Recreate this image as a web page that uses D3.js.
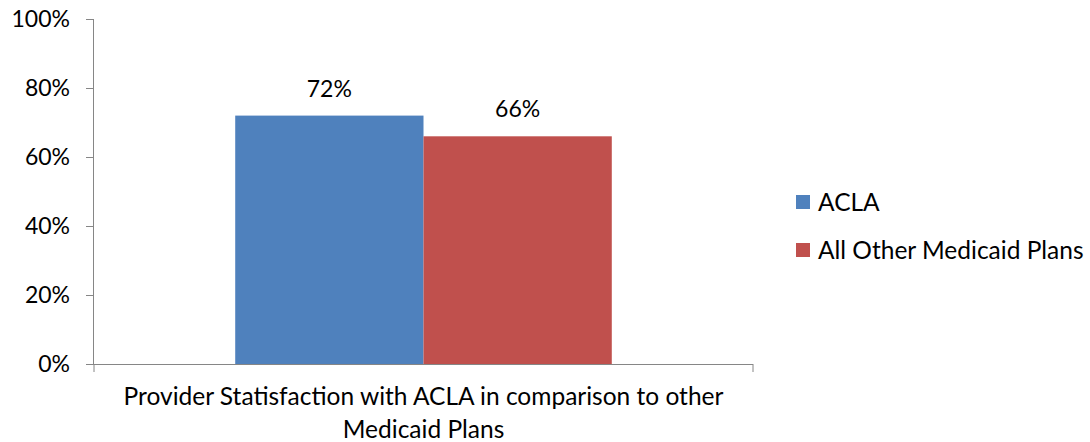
<!DOCTYPE html>
<html>
<head>
<meta charset="utf-8">
<script src="https://cdn.jsdelivr.net/npm/d3@7"></script>
<style>
  body { margin: 0; background: #fff; }
  svg text { font-family: Lato, "Open Sans", sans-serif; fill: #000; }
</style>
</head>
<body>
<div id="chart"></div>
<script>
// chart data
const categories = ["Provider Statisfaction with ACLA in comparison to other Medicaid Plans"];
const categoryLines = ["Provider Statisfaction with ACLA in comparison to other", "Medicaid Plans"];
const seriesNames = ["ACLA", "All Other Medicaid Plans"];
const seriesValues = [0.72, 0.66];
const seriesColors = ["#4F81BD", "#C0504D"];
const yTicks = [0, 0.2, 0.4, 0.6, 0.8, 1.0];

const width = 1090, height = 442;
const margin = {top: 19, right: 337, bottom: 78, left: 94};
const numSize = "23px";
const labelSize = "24.5px";

const svg = d3.select("#chart").append("svg")
    .attr("width", width)
    .attr("height", height);

const g = svg.append("g")
    .attr("transform", `translate(${margin.left}, ${margin.top})`);

const innerW = width - margin.left - margin.right;
const innerH = height - margin.top - margin.bottom;

// scales
const y = d3.scaleLinear().domain([0, 1]).range([innerH, 0]);
const x0 = d3.scaleBand().domain(categories).range([0, innerW]).paddingInner(0).paddingOuter(0);
// gap width 150% -> outer padding
const x1 = d3.scaleBand().domain(seriesNames).range([0, x0.bandwidth()]).paddingOuter(0.75).paddingInner(0);

// y axis
const yAxis = d3.axisLeft(y).tickValues(yTicks).tickFormat(d3.format(".0%")).tickSize(8).tickPadding(16);
const yg = g.append("g").call(yAxis);
yg.select(".domain").attr("stroke", "#868686").attr("d", `M-0.5,${y(1)}V${innerH}`);
yg.selectAll(".tick line").attr("stroke", "#868686");
yg.selectAll(".tick text").style("font-size", numSize).style("font-family", null).attr("fill", "#000");

// bars
const cat = g.selectAll(".cat")
    .data(categories)
    .enter()
    .append("g")
    .attr("class", "cat")
    .attr("transform", d => `translate(${x0(d)}, 0)`);

cat.selectAll("rect")
    .data(seriesNames.map((s, i) => ({name: s, value: seriesValues[i], color: seriesColors[i]})))
    .enter()
    .append("rect")
    .attr("x", d => x1(d.name))
    .attr("y", d => y(d.value))
    .attr("width", x1.bandwidth())
    .attr("height", d => innerH - y(d.value))
    .attr("fill", d => d.color);

// value labels
cat.selectAll(".val")
    .data(seriesNames.map((s, i) => ({name: s, value: seriesValues[i]})))
    .enter()
    .append("text")
    .attr("class", "val")
    .attr("x", d => x1(d.name) + x1.bandwidth() / 2)
    .attr("y", d => y(d.value) - 19)
    .attr("text-anchor", "middle")
    .style("font-size", numSize)
    .text(d => d3.format(".0%")(d.value));

// x axis
const xg = g.append("g").attr("transform", `translate(0, ${innerH})`);
xg.append("path")
    .attr("d", `M0,0.5H${innerW}`)
    .attr("stroke", "#868686")
    .attr("fill", "none");
xg.selectAll(".xtick")
    .data([0, innerW])
    .enter()
    .append("line")
    .attr("x1", d => d).attr("x2", d => d)
    .attr("y1", 0).attr("y2", 8)
    .attr("stroke", "#868686");

const xl = xg.append("text")
    .attr("x", x0(categories[0]) + x0.bandwidth() / 2)
    .attr("text-anchor", "middle")
    .style("font-size", labelSize);
xl.selectAll("tspan")
    .data(categoryLines)
    .enter()
    .append("tspan")
    .attr("x", x0(categories[0]) + x0.bandwidth() / 2)
    .attr("y", (d, i) => 41 + i * 33)
    .text(d => d);

// legend
const legend = svg.append("g").attr("transform", "translate(796, 195)");
const li = legend.selectAll(".li")
    .data(seriesNames)
    .enter()
    .append("g")
    .attr("transform", (d, i) => `translate(0, ${i * 48})`);
li.append("rect")
    .attr("width", 14).attr("height", 14)
    .attr("fill", (d, i) => seriesColors[i]);
li.append("text")
    .attr("x", 22)
    .attr("y", 7)
    .attr("dy", "0.35em")
    .style("font-size", labelSize)
    .text(d => d);
</script>
</body>
</html>
